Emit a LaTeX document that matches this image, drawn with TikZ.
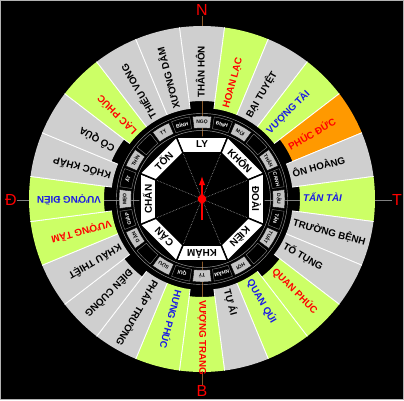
\documentclass[tikz,border=0pt]{standalone}
\usepackage{fontspec}
\setmainfont{Liberation Sans}
\usetikzlibrary{arrows,arrows.meta,calc,positioning}

\definecolor{sectgreen}{HTML}{CCFF66}
\definecolor{sectgray}{HTML}{CFCFCF}
\definecolor{sectorange}{HTML}{FF9900}
\definecolor{boxgray}{HTML}{C4C4C4}
\definecolor{axisbrown}{HTML}{8B5A2B}
\definecolor{textblue}{HTML}{1A1AE6}

\begin{document}
\begin{tikzpicture}
        [
            x=1pt, y=1pt,
            sectlabel/.style = {
                font=\bfseries\fontsize{9.8}{9.8}\selectfont,
                inner sep=0pt,
                anchor=mid west
            },
            mtnlabel/.style = {
                font=\bfseries\fontsize{5}{5}\selectfont,
                inner sep=0pt
            },
            mtnbox-g/.style = {fill=boxgray, draw=black, line width=0.4pt},
            mtnbox-b/.style = {fill=black, draw=gray, line width=0.4pt},
            mtnbox-x/.style = {fill=black, draw=gray, line width=0.4pt},
            mtntext-g/.style = {text=black},
            mtntext-b/.style = {text=white},
            mtntext-x/.style = {text=white},
            trigram/.style = {
                fill=white,
                draw=black,
                line width=1.5pt
            },
            trilabel/.style = {
                font=\bfseries\fontsize{10}{10}\selectfont,
                inner sep=0pt
            },
            dirlabel/.style = {
                font=\fontsize{16}{16}\selectfont,
                text=red,
                inner sep=0pt
            },
            ray/.style = {
                gray!80,
                densely dotted,
                line width=0.6pt
            }
        ]

        % background and frame
        \fill[black] (-202,-201) rectangle (202,199);
        \draw[gray!60, line width=1pt] (-201.5,-200.5) rectangle (201.5,198.5);
        \useasboundingbox (-202,-201) rectangle (202,199);

        % directions
        \node[dirlabel] (nam) at (0,189) {N};
        \node[dirlabel] (bac) at (0,-192) {B};
        \node[dirlabel] (dong) at (-191,-1) {Đ};
        \node[dirlabel] (tay) at (195,-1) {T};

        \draw[axisbrown, line width=0.8pt] (nam.south) -- (bac.north);
        \draw[gray, line width=0.8pt] (dong.east) -- (tay.west);

        % outer ring of 24 sectors
        \foreach \ang/\rin/\col/\tcol/\sh/\txt [evaluate=\ang as \dir using 90-\ang] in {
            0/98/sectgray/black/\upshape/THÂN HÔN,
            15/91/sectgreen/red/\upshape/HOAN LẠC,
            30/91/sectgray/black/\upshape/BẠI TUYỆT,
            45/91/sectgreen/textblue/\upshape/VƯỢNG TÀI,
            60/98/sectorange/red/\upshape/PHÚC ĐỨC,
            75/91/sectgray/black/\upshape/ÔN HOÀNG,
            90/98/sectgreen/textblue/\itshape/TẤN TÀI,
            105/91/sectgray/black/\upshape/TRƯỜNG BỆNH,
            120/91/sectgray/black/\upshape/TỐ TỤNG,
            135/98/sectgreen/red/\upshape/QUAN PHÚC,
            150/91/sectgreen/textblue/\upshape/QUAN QÚI,
            165/91/sectgray/black/\upshape/TỰ ÁI,
            180/98/sectgreen/red/\upshape/VƯỢNG TRANG,
            195/91/sectgreen/textblue/\upshape/HƯNG PHÚC,
            210/91/sectgray/black/\upshape/PHÁP TRƯỜNG,
            225/98/sectgray/black/\upshape/ĐIÊN CUỒNG,
            240/91/sectgray/black/\upshape/KHẨU THIỆT,
            255/91/sectgreen/red/\upshape/VƯỢNG TẦM,
            270/98/sectgreen/textblue/\upshape/VƯỢNG ĐIỀN,
            285/91/sectgray/black/\upshape/KHỐC KHẤP,
            300/98/sectgray/black/\upshape/CÔ QỦA,
            315/91/sectgreen/red/\upshape/LẠC PHÚC,
            330/91/sectgray/black/\upshape/THIẾU VONG,
            345/91/sectgray/black/\upshape/XƯƠNG DÂM}
        {
            \fill[\col] ({\dir-7.5}:\rin) arc[start angle=\dir-7.5, end angle=\dir+7.5, radius=\rin]
                -- ({\dir+7.5}:173) arc[start angle=\dir+7.5, end angle=\dir-7.5, radius=173] -- cycle;
            \draw[white, line width=0.8pt] ({\dir-7.5}:\rin) -- ({\dir-7.5}:173);
            \draw[white, line width=0.8pt] ({\dir+7.5}:\rin) -- ({\dir+7.5}:173);
            \node[sectlabel, text=\tcol, rotate=\dir] (sec\ang) at (\dir:{\rin+3}) {\sh\txt};
        }

        \draw[gray!70, line width=0.4pt] (0,0) circle (85.5);

        % 24 mountains
        \foreach \k/\mtn/\kind [evaluate=\k as \dir using 90-15*\k] in {
            0/NGỌ/g, 1/ĐINH/b, 2/MÙI/g, 3/{}/x, 4/THÂN/g, 5/CANH/b,
            6/DẬU/g, 7/TÂN/b, 8/TUẤT/g, 9/{}/x, 10/HỢI/g, 11/NHÂM/b,
            12/TÝ/g, 13/QUÍ/b, 14/SỬU/g, 15/{}/x, 16/DẦN/g, 17/GIÁP/b,
            18/MẸO/g, 19/ẤT/b, 20/THÌN/g, 21/{}/x, 22/TỴ/g, 23/BÍNH/b}
        {
            \path[mtnbox-\kind] ({\dir-6.5}:71) arc[start angle=\dir-6.5, end angle=\dir+6.5, radius=71]
                -- ({\dir+6.5}:83) arc[start angle=\dir+6.5, end angle=\dir-6.5, radius=83] -- cycle;
            \node[mtnlabel, mtntext-\kind, rotate=\dir-90] (mtn\k) at (\dir:77) {\mtn};
        }

        \draw[gray!80, line width=0.5pt] (0,0) circle (68.5);

        % eight trigrams
        \fill[black] (0,0) circle (50);
        \foreach \j/\tri [evaluate=\j as \dir using 90-45*\j] in {
            0/LY, 1/KHÔN, 2/ĐOÀI, 3/KIỀN, 4/KHẢM, 5/CẤN, 6/CHẤN, 7/TỐN}
        {
            \path[trigram] ({\dir-22.5}:67.1) -- ({\dir+22.5}:67.1)
                -- ({\dir+22.5}:49.8) -- ({\dir-22.5}:49.8) -- cycle;
            \node[trilabel, rotate=\dir-90] (tri\j) at (\dir:54.5) {\tri};
            \draw[ray] (0,0) -- ({\dir+22.5}:48.5);
        }

        % needle
        \coordinate (tail) at (0,-21);
        \coordinate (tip) at (0,23);
        \draw[red, line width=1.3pt, -{Latex[length=9pt,width=6.5pt]}] (tail) -- (tip);
        \node[circle, fill=red, inner sep=0pt, minimum size=8.6pt] (hub) at (0,0) {};
    \end{tikzpicture}
\end{document}
